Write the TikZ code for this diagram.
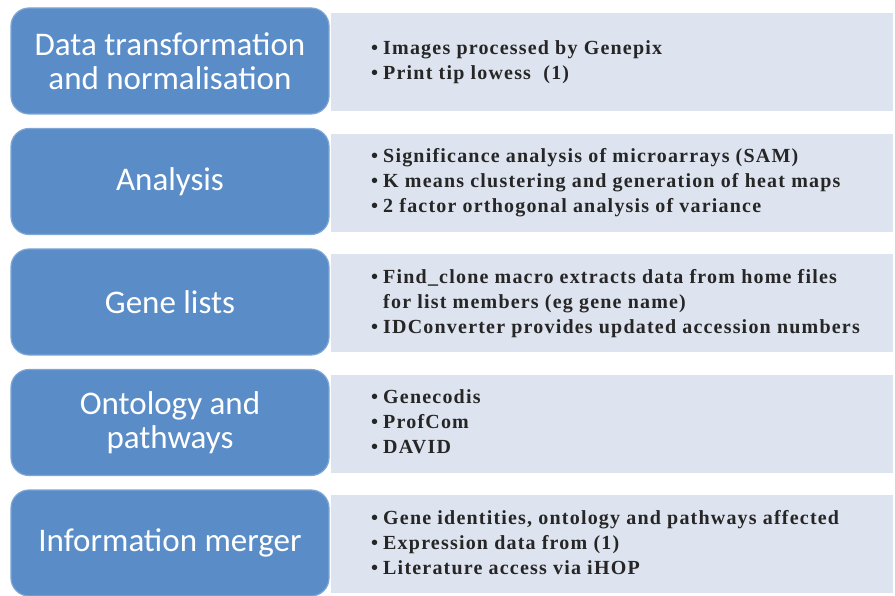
\documentclass[tikz,border=0pt]{standalone}
\usepackage{fontspec}
\setmainfont{Liberation Serif}
\newfontfamily\stagesans{Carlito}
\newfontfamily\itemserif[LetterSpace=6]{Liberation Serif Bold}
\usetikzlibrary{positioning}

\definecolor{stageblue}{RGB}{90,141,200}
\definecolor{stageedge}{RGB}{125,166,214}
\definecolor{detailgrey}{RGB}{221,227,239}

\newcommand{\stagefont}{\stagesans\fontsize{33}{34}\selectfont}
\newcommand{\itemfont}{\itemserif\fontsize{20}{25}\selectfont}
\newcommand{\bulletlist}[1]{%
    \begin{tabular}{@{}l@{\hspace{5pt}}l@{}}#1\end{tabular}}

\tikzset{
    stage/.style={
        draw=stageedge, line width=1.2pt, fill=stageblue,
        rounded corners=18pt,
        minimum width=318pt, minimum height=106pt,
        text=white, align=center, font=\stagefont
    },
    detail/.style={
        fill=detailgrey, anchor=north west,
        minimum width=562pt, minimum height=98pt
    },
    items/.style={anchor=west, inner sep=0pt, text=black!85, font=\itemfont},
}

\begin{document}
\begin{tikzpicture}[x=1pt,y=-1pt]
    \useasboundingbox (0,0) rectangle (895,596);

    % Grey detail panels (drawn first, the stages overlap them)
    \node[detail] (d1) at (331,13)  {};
    \node[detail] (d2) at (331,133.5) {};
    \node[detail] (d3) at (331,254) {};
    \node[detail] (d4) at (331,374.5) {};
    \node[detail] (d5) at (331,495) {};

    % Stages
    \node[stage] (s1) at (170,61)    {Data transformation\\and normalisation};
    \node[stage] (s2) at (170,181.5) {Analysis};
    \node[stage] (s3) at (170,302)   {Gene lists};
    \node[stage] (s4) at (170,422.5) {Ontology and\\pathways};
    \node[stage] (s5) at (170,543)   {Information merger};

    % Bullet lists
    \node[items] (l1) at ([xshift=40pt]d1.west) {\bulletlist{%
        \textbullet & Images processed by Genepix\\
        \textbullet & Print tip lowess\ \ (1)}};
    \node[items] (l2) at ([xshift=40pt]d2.west) {\bulletlist{%
        \textbullet & Significance analysis of microarrays (SAM)\\
        \textbullet & K means clustering and generation of heat maps\\
        \textbullet & 2 factor orthogonal analysis of variance}};
    \node[items] (l3) at ([xshift=40pt]d3.west) {\bulletlist{%
        \textbullet & Find\_clone macro extracts data from home files\\
                    & for list members (eg gene name)\\
        \textbullet & IDConverter provides updated accession numbers}};
    \node[items] (l4) at ([xshift=40pt]d4.west) {\bulletlist{%
        \textbullet & Genecodis\\
        \textbullet & ProfCom\\
        \textbullet & DAVID}};
    \node[items] (l5) at ([xshift=40pt]d5.west) {\bulletlist{%
        \textbullet & Gene identities, ontology and pathways affected\\
        \textbullet & Expression data from (1)\\
        \textbullet & Literature access via iHOP}};
\end{tikzpicture}
\end{document}
